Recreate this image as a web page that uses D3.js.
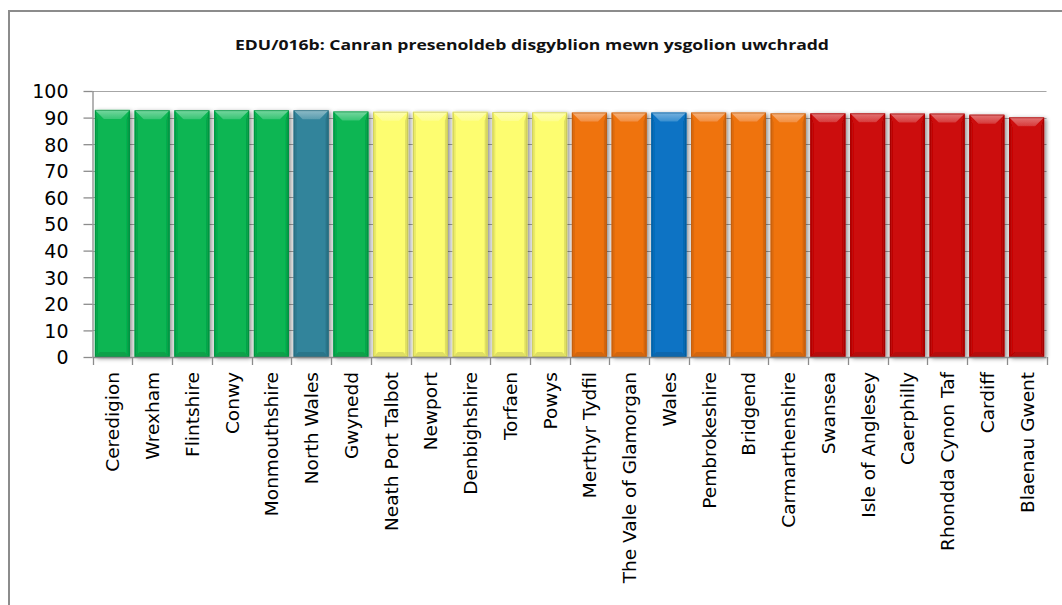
<!DOCTYPE html>
<html>
<head>
<meta charset="utf-8">
<script src="https://cdn.jsdelivr.net/npm/d3@7"></script>
<style>
  html, body { margin: 0; padding: 0; background: #fff; }
  svg { display: block; }
</style>
</head>
<body>
<svg id="chart" width="1062" height="605"></svg>
<script>
const categories = ["Ceredigion","Wrexham","Flintshire","Conwy","Monmouthshire","North Wales","Gwynedd","Neath Port Talbot","Newport","Denbighshire","Torfaen","Powys","Merthyr Tydfil","The Vale of Glamorgan","Wales","Pembrokeshire","Bridgend","Carmarthenshire","Swansea","Isle of Anglesey","Caerphilly","Rhondda Cynon Taf","Cardiff","Blaenau Gwent"];
const values = [92.9,92.8,92.8,92.8,92.8,92.8,92.3,92.2,92.2,92.2,92.1,92.0,91.9,91.9,91.9,91.9,91.9,91.6,91.6,91.6,91.5,91.5,91.1,90.1];
const groups = ["top","top","top","top","top","north","top","upper","upper","upper","upper","upper","lower","lower","wales","lower","lower","lower","bottom","bottom","bottom","bottom","bottom","bottom"];
const yTicks = [0,10,20,30,40,50,60,70,80,90,100];
const title = "EDU/016b: Canran presenoldeb disgyblion mewn ysgolion uwchradd";

const palette = {
  top:    "#08b652",
  north:  "#31849b",
  upper:  "#fdfd70",
  lower:  "#ef7311",
  wales:  "#0873c4",
  bottom: "#cc0808"
};

const svg = d3.select("#chart");
const defs = svg.append("defs");
const shadow = defs.append("filter").attr("id","shadow")
  .attr("x","-20%").attr("y","-5%").attr("width","150%").attr("height","115%");
shadow.append("feDropShadow").attr("dx",2).attr("dy",1.5).attr("stdDeviation",2)
  .attr("flood-color","#000").attr("flood-opacity",0.45);

// frame
svg.append("rect").attr("x",9).attr("y",11).attr("width",1080).attr("height",620)
  .attr("fill","#fff").attr("stroke","#8c8c8c").attr("stroke-width",2);

// title
svg.append("text").attr("x",532).attr("y",50)
  .attr("text-anchor","middle")
  .attr("font-family","'Open Sans', 'Liberation Sans', sans-serif")
  .attr("font-weight",700).attr("font-size",14.5)
  .attr("fill","#111")
  .attr("textLength",594).attr("lengthAdjust","spacingAndGlyphs")
  .text(title);

const x = d3.scaleBand().domain(categories).range([92.5, 1046.5]).paddingInner(0.12).paddingOuter(0.06);
const y = d3.scaleLinear().domain([0,100]).range([357, 91]);

// gridlines
svg.append("g").selectAll("line").data(yTicks.filter(d => d > 0)).join("line")
  .attr("x1",92.5).attr("x2",1046.5)
  .attr("y1",d => Math.round(y(d)) + 0.5).attr("y2",d => Math.round(y(d)) + 0.5)
  .attr("stroke","#a6a6a6").attr("stroke-width",1.2);

// bars
const bars = svg.append("g").selectAll("g").data(categories).join("g")
  .attr("filter","url(#shadow)");

bars.each(function(c, i) {
  const g = d3.select(this);
  const x0 = x(c), w = x.bandwidth(), y0 = y(values[i]), y1 = y(0);
  const base = d3.color(palette[groups[i]]);
  const light = d3.interpolateRgb(base, "#ffffff")(0.45);
  const mid = d3.interpolateRgb(base, "#ffffff")(0.2);
  const dark = base.darker(0.35);
  const darker = base.darker(0.9);
  const bv = 9, sv = 3;
  const gid = "tg" + i;
  const grad = defs.append("linearGradient").attr("id",gid).attr("x1",0).attr("y1",0).attr("x2",0).attr("y2",1);
  grad.append("stop").attr("offset","0%").attr("stop-color",light);
  grad.append("stop").attr("offset","100%").attr("stop-color",mid);
  g.append("rect").attr("x",x0).attr("y",y0).attr("width",w).attr("height",y1 - y0)
    .attr("fill",base.formatHex());
  // left & right edge shading
  g.append("polygon").attr("points",[[x0,y0],[x0+sv,y0+bv],[x0+sv,y1-sv],[x0,y1]].join(" "))
    .attr("fill",d3.interpolateRgb(base, "#000")(0.08));
  g.append("polygon").attr("points",[[x0+w,y0],[x0+w-sv,y0+bv],[x0+w-sv,y1-sv],[x0+w,y1]].join(" "))
    .attr("fill",dark.formatHex());
  // bottom bevel
  g.append("polygon").attr("points",[[x0,y1],[x0+sv+2,y1-sv-2],[x0+w-sv-2,y1-sv-2],[x0+w,y1]].join(" "))
    .attr("fill",dark.formatHex());
  // top bevel highlight
  g.append("polygon").attr("points",[[x0,y0],[x0+w,y0],[x0+w-bv,y0+bv],[x0+bv,y0+bv]].join(" "))
    .attr("fill",`url(#${gid})`);
  // outline
  g.append("rect").attr("x",x0+0.5).attr("y",y0+0.5).attr("width",w-1).attr("height",y1 - y0 - 1)
    .attr("fill","none").attr("stroke",darker.formatHex()).attr("stroke-opacity",0.55).attr("stroke-width",1);
});

// y axis
const yAxis = svg.append("g").attr("transform","translate(92.5,0)")
  .call(d3.axisLeft(y).tickValues(yTicks).tickSize(9).tickPadding(15));
yAxis.select(".domain").attr("stroke","#8c8c8c").attr("stroke-width",1.3).attr("d","M0.5,91V357");
yAxis.selectAll(".tick line").attr("stroke","#8c8c8c").attr("stroke-width",1.3);
yAxis.selectAll(".tick text")
  .attr("font-family","'DejaVu Sans', sans-serif").attr("font-size",19).attr("fill","#000")
  .attr("dy","0.36em");

// x axis
const xAxis = svg.append("g").attr("transform","translate(0,357)");
xAxis.append("line").attr("x1",92.5).attr("x2",1046.5).attr("y1",0.5).attr("y2",0.5)
  .attr("stroke","#8c8c8c").attr("stroke-width",1.3);
const boundaries = d3.range(categories.length + 1);
function i2x(i) {
  const start = x(categories[0]) - x.step() * x.paddingOuter();
  return Math.round(start + i * x.step()) + 0.5;
}
xAxis.selectAll("line.tk").data(boundaries).join("line").attr("class","tk")
  .attr("x1",d => i2x(d)).attr("x2",d => i2x(d)).attr("y1",0).attr("y2",8)
  .attr("stroke","#8c8c8c").attr("stroke-width",1.3);
xAxis.selectAll("text").data(categories).join("text")
  .attr("transform",c => `translate(${x(c) + x.bandwidth()/2 + 7},15) rotate(-90)`)
  .attr("text-anchor","end")
  .attr("font-family","'DejaVu Sans', sans-serif").attr("font-size",18.5).attr("fill","#000")
  .text(c => c);
</script>
</body>
</html>
